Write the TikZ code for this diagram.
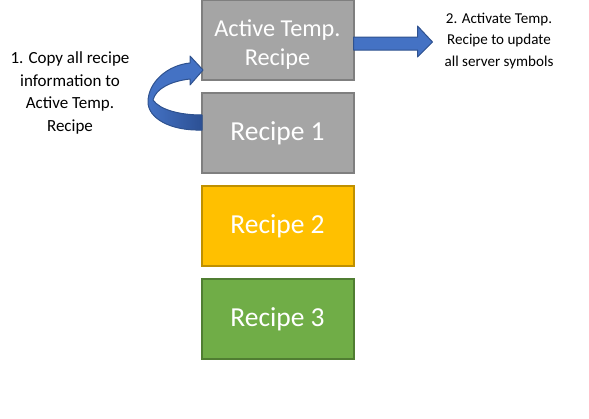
\documentclass[tikz,border=0pt]{standalone}
\usepackage{fontspec}
\setmainfont{Carlito}
\usepackage{xcolor}
\definecolor{BoxGray}{RGB}{165,165,165}
\definecolor{BoxGrayLine}{RGB}{127,127,127}
\definecolor{RecipeYellow}{RGB}{255,192,0}
\definecolor{RecipeYellowLine}{RGB}{191,144,0}
\definecolor{RecipeGreen}{RGB}{112,173,71}
\definecolor{RecipeGreenLine}{RGB}{80,126,50}
\definecolor{ArrowBlue}{RGB}{68,114,196}
\definecolor{ArrowBlueLine}{RGB}{47,82,143}
\definecolor{ArrowBlueDark}{RGB}{44,80,148}
\usepackage{tikz}
\usetikzlibrary{positioning, calc}

\begin{document}
\begin{tikzpicture}[
        x=0.75pt, y=-0.75pt,
        node distance=8.25pt,
        recipe/.style={rectangle, draw=BoxGrayLine, fill=BoxGray, line width=1.5pt, text=white, align=center, minimum width=114pt, minimum height=60pt, font=\fontsize{20.6}{24}\selectfont},
        note/.style={align=center, inner sep=0pt, text=black},
        blockarrow/.style={fill=ArrowBlue, draw=ArrowBlueLine, line width=0.75pt, line join=round}
    ]
        \useasboundingbox (0,0) rectangle (589,418);

        % recipe stack
        \node[recipe, font=\fontsize{18.2}{21.75}\selectfont] (active) at (277.5,40) {\rule{0pt}{19pt}Active Temp.\\Recipe};
        \node[recipe, below=of active] (r1) {Recipe 1};
        \node[recipe, below=of r1, fill=RecipeYellow, draw=RecipeYellowLine] (r2) {Recipe 2};
        \node[recipe, below=of r2, fill=RecipeGreen, draw=RecipeGreenLine] (r3) {Recipe 3};

        % notes
        \node[note, font=\fontsize{12.75}{17}\selectfont] (copynote) at (70,93) {1. Copy all recipe\\information to\\Active Temp.\\Recipe};
        \node[note, font=\fontsize{11.3}{16}\selectfont] (activatenote) at (499,41) {2. Activate Temp.\\Recipe to update\\all server symbols};

        % step 2 arrow
        \coordinate (a2) at (active.east);
        \draw[blockarrow] ($(a2)+(-1,-3)$) -- ($(a2)+(63,-3)$) -- ($(a2)+(63,-14)$) -- ($(a2)+(78,2)$)
            -- ($(a2)+(63,17)$) -- ($(a2)+(63,10)$) -- ($(a2)+(-1,10)$) -- cycle;

        % step 1 curved arrow
        \fill[ArrowBlue] (202,115) -- (202,130)
            .. controls (170,131) and (148,118) .. (148,102)
            .. controls (148,82) and (168,65) .. (190,63)
            -- (190,56) -- (203,70) -- (190,85) -- (190,79)
            .. controls (172,81) and (156,88) .. (153,100)
            .. controls (160,110) and (180,115) .. (202,115) -- cycle;
        \shade[left color=ArrowBlue, right color=ArrowBlueDark] (202,115) -- (202,130)
            .. controls (170,131) and (148,118) .. (148,102)
            -- (153,100)
            .. controls (160,110) and (180,115) .. (202,115) -- cycle;
        \draw[ArrowBlueLine, line width=0.75pt, line join=round] (202,115) -- (202,130)
            .. controls (170,131) and (148,118) .. (148,102)
            .. controls (148,82) and (168,65) .. (190,63)
            -- (190,56) -- (203,70) -- (190,85) -- (190,79)
            .. controls (172,81) and (156,88) .. (153,100)
            .. controls (160,110) and (180,115) .. (202,115);
    \end{tikzpicture}
\end{document}
